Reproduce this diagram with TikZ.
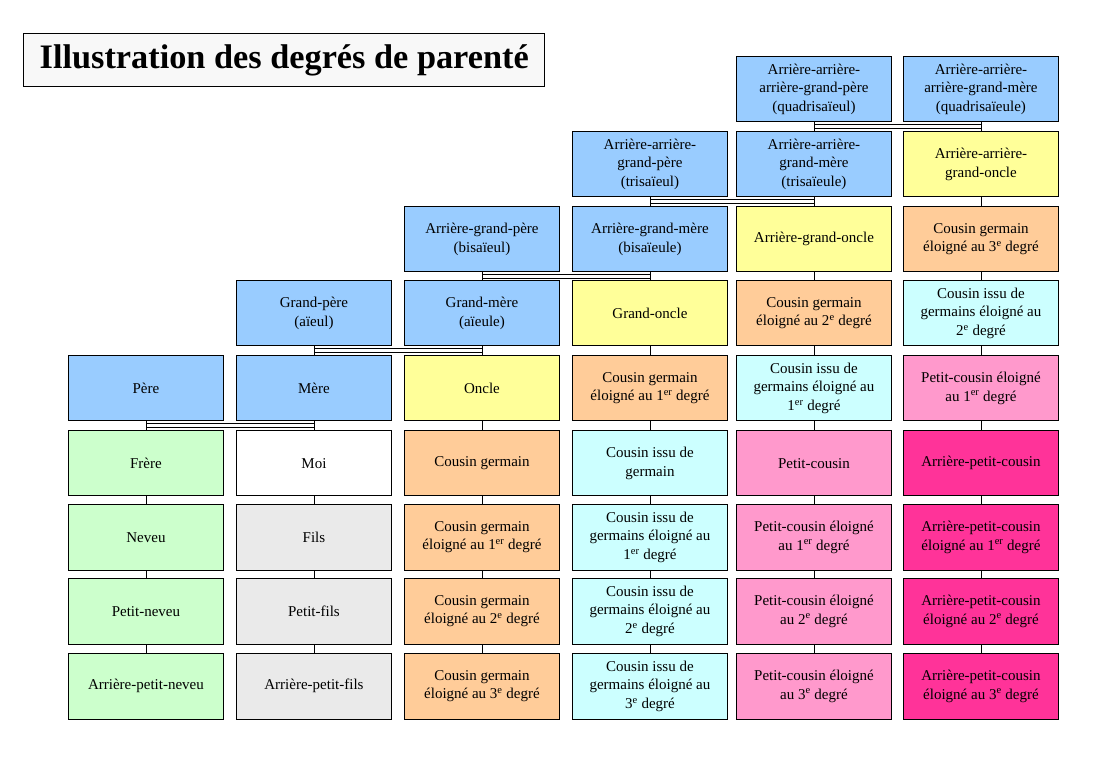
\documentclass[tikz,border=0pt]{standalone}
\usepackage{fontspec}
\setmainfont{Liberation Serif}
\usetikzlibrary{calc}
\definecolor{cblue}{HTML}{99CCFF}
\definecolor{cyellow}{HTML}{FFFF99}
\definecolor{corange}{HTML}{FFCC99}
\definecolor{ccyan}{HTML}{CCFFFF}
\definecolor{cpink}{HTML}{FF99CC}
\definecolor{cdeep}{HTML}{FF3399}
\definecolor{cgreen}{HTML}{CCFFCC}
\definecolor{cgrey}{HTML}{EAEAEA}
\definecolor{ctitle}{HTML}{F8F8F8}
\tikzset{
  box/.style={draw=black, line width=0.9pt, minimum width=155pt, minimum height=65.5pt,
    align=center, inner sep=0pt, anchor=north west, font=\fontsize{15}{18.5}\selectfont},
  link/.style={draw=black, line width=0.9pt},
  titlebox/.style={draw=black, line width=0.9pt, fill=ctitle, anchor=north west, inner sep=0pt,
    minimum width=521pt, minimum height=53pt, font=\fontsize{34.3}{40}\selectfont\bfseries}
}
\newcommand{\supx}[1]{\textsuperscript{#1}}
\begin{document}
\begin{tikzpicture}[x=1pt,y=-1pt]
\useasboundingbox (0,0) rectangle (1109,783);
\node[titlebox] (title) at (23.3,33.3) {Illustration des degrés de parenté};
% row 0
\node[box,fill=cblue] (n05) at (736,56) {Arrière-arrière-\\arrière-grand-père\\(quadrisaïeul)};
\node[box,fill=cblue] (n06) at (903,56) {Arrière-arrière-\\arrière-grand-mère\\(quadrisaïeule)};
% row 1
\node[box,fill=cblue] (n14) at (572,131) {Arrière-arrière-\\grand-père\\(trisaïeul)};
\node[box,fill=cblue] (n15) at (736,131) {Arrière-arrière-\\grand-mère\\(trisaïeule)};
\node[box,fill=cyellow] (n16) at (903,131) {Arrière-arrière-\\grand-oncle};
% row 2
\node[box,fill=cblue] (n23) at (404,206) {Arrière-grand-père\\(bisaïeul)};
\node[box,fill=cblue] (n24) at (572,206) {Arrière-grand-mère\\(bisaïeule)};
\node[box,fill=cyellow] (n25) at (736,206) {Arrière-grand-oncle};
\node[box,fill=corange] (n26) at (903,206) {Cousin germain\\éloigné au 3\supx{e} degré};
% row 3
\node[box,fill=cblue] (n32) at (236,280) {Grand-père\\(aïeul)};
\node[box,fill=cblue] (n33) at (404,280) {Grand-mère\\(aïeule)};
\node[box,fill=cyellow] (n34) at (572,280) {Grand-oncle};
\node[box,fill=corange] (n35) at (736,280) {Cousin germain\\éloigné au 2\supx{e} degré};
\node[box,fill=ccyan] (n36) at (903,280) {Cousin issu de\\germains éloigné au\\2\supx{e} degré};
% row 4
\node[box,fill=cblue] (n41) at (68,355) {Père};
\node[box,fill=cblue] (n42) at (236,355) {Mère};
\node[box,fill=cyellow] (n43) at (404,355) {Oncle};
\node[box,fill=corange] (n44) at (572,355) {Cousin germain\\éloigné au 1\supx{er} degré};
\node[box,fill=ccyan] (n45) at (736,355) {Cousin issu de\\germains éloigné au\\1\supx{er} degré};
\node[box,fill=cpink] (n46) at (903,355) {Petit-cousin éloigné\\au 1\supx{er} degré};
% row 5
\node[box,fill=cgreen] (n51) at (68,430) {Frère};
\node[box,fill=white] (n52) at (236,430) {Moi};
\node[box,fill=corange] (n53) at (404,430) {Cousin germain};
\node[box,fill=ccyan] (n54) at (572,430) {Cousin issu de\\germain};
\node[box,fill=cpink] (n55) at (736,430) {Petit-cousin};
\node[box,fill=cdeep] (n56) at (903,430) {Arrière-petit-cousin};
% row 6
\node[box,fill=cgreen] (n61) at (68,504) {Neveu};
\node[box,fill=cgrey] (n62) at (236,504) {Fils};
\node[box,fill=corange] (n63) at (404,504) {Cousin germain\\éloigné au 1\supx{er} degré};
\node[box,fill=ccyan] (n64) at (572,504) {Cousin issu de\\germains éloigné au\\1\supx{er} degré};
\node[box,fill=cpink] (n65) at (736,504) {Petit-cousin éloigné\\au 1\supx{er} degré};
\node[box,fill=cdeep] (n66) at (903,504) {Arrière-petit-cousin\\éloigné au 1\supx{er} degré};
% row 7
\node[box,fill=cgreen] (n71) at (68,578) {Petit-neveu};
\node[box,fill=cgrey] (n72) at (236,578) {Petit-fils};
\node[box,fill=corange] (n73) at (404,578) {Cousin germain\\éloigné au 2\supx{e} degré};
\node[box,fill=ccyan] (n74) at (572,578) {Cousin issu de\\germains éloigné au\\2\supx{e} degré};
\node[box,fill=cpink] (n75) at (736,578) {Petit-cousin éloigné\\au 2\supx{e} degré};
\node[box,fill=cdeep] (n76) at (903,578) {Arrière-petit-cousin\\éloigné au 2\supx{e} degré};
% row 8
\node[box,fill=cgreen] (n81) at (68,653) {Arrière-petit-neveu};
\node[box,fill=cgrey] (n82) at (236,653) {Arrière-petit-fils};
\node[box,fill=corange] (n83) at (404,653) {Cousin germain\\éloigné au 3\supx{e} degré};
\node[box,fill=ccyan] (n84) at (572,653) {Cousin issu de\\germains éloigné au\\3\supx{e} degré};
\node[box,fill=cpink] (n85) at (736,653) {Petit-cousin éloigné\\au 3\supx{e} degré};
\node[box,fill=cdeep] (n86) at (903,653) {Arrière-petit-cousin\\éloigné au 3\supx{e} degré};
% vertical links
\foreach \c/\s in {1/4,2/3,3/2,4/1,5/0,6/0}{
  \foreach \r in {\s,...,7}{
    \pgfmathtruncatemacro{\rr}{\r+1}
    \draw[link] (n\r\c.south) -- (n\rr\c.north);
  }
}
% marriage links
\foreach \f/\m/\fc/\mc in {n05/n06/n15/n16, n14/n15/n24/n25, n23/n24/n33/n34, n32/n33/n42/n43, n41/n42/n51/n52}{
  \draw[link] ($(\f.south)!0.5!(\fc.north)+(0pt,2.2pt)$) rectangle ($(\m.south)!0.5!(\mc.north)+(0pt,-2.2pt)$);
}
\end{tikzpicture}
\end{document}
